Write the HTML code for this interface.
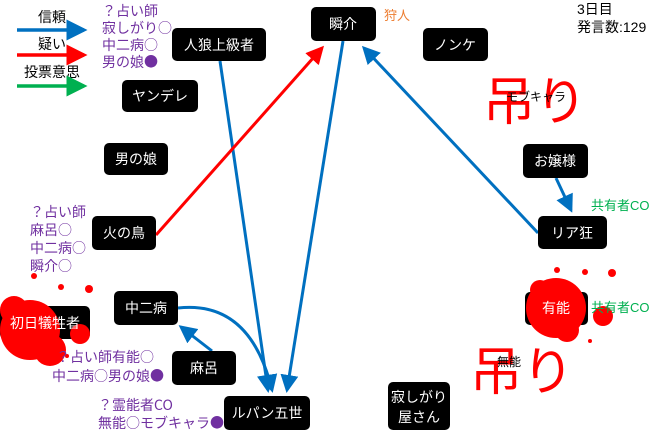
<!DOCTYPE html>
<html><head><meta charset="utf-8"><style>
body{margin:0;background:#fff;}
svg text{font-family:"Liberation Sans","Noto Sans CJK JP",sans-serif;}
svg .cjk text{font-family:"Noto Sans CJK JP",sans-serif;}
</style></head><body>
<svg width="660" height="434" viewBox="0 0 660 434" xmlns="http://www.w3.org/2000/svg">
<defs>
<marker id="ab" markerWidth="6" markerHeight="6" refX="5" refY="3" orient="auto" markerUnits="strokeWidth"><path d="M0,0 L6,3 L0,6 z" fill="#0070c0"/></marker>
<marker id="ar" markerWidth="6" markerHeight="6" refX="5" refY="3" orient="auto" markerUnits="strokeWidth"><path d="M0,0 L6,3 L0,6 z" fill="#ff0000"/></marker>
<marker id="ag" markerWidth="6" markerHeight="6" refX="5" refY="3" orient="auto" markerUnits="strokeWidth"><path d="M0,0 L6,3 L0,6 z" fill="#00b050"/></marker>
</defs>
<g font-size="14" fill="#000">
<text x="38" y="22">信頼</text>
<text x="38" y="49">疑い</text>
<text x="24" y="77">投票意思</text>
</g>
<line x1="17" y1="30" x2="84" y2="30" stroke="#0070c0" stroke-width="3.5" marker-end="url(#ab)"/>
<line x1="17" y1="55" x2="84" y2="55" stroke="#ff0000" stroke-width="3.5" marker-end="url(#ar)"/>
<line x1="17" y1="86" x2="84" y2="86" stroke="#00b050" stroke-width="3.5" marker-end="url(#ag)"/>

<line x1="220" y1="61" x2="268" y2="390" stroke="#0070c0" stroke-width="3" marker-end="url(#ab)"/>
<line x1="343" y1="41" x2="287" y2="390" stroke="#0070c0" stroke-width="3" marker-end="url(#ab)"/>
<line x1="156" y1="235" x2="322" y2="48" stroke="#ff0000" stroke-width="3" marker-end="url(#ar)"/>
<line x1="538" y1="233" x2="364" y2="48" stroke="#0070c0" stroke-width="3" marker-end="url(#ab)"/>
<line x1="556" y1="178" x2="571" y2="210" stroke="#0070c0" stroke-width="3" marker-end="url(#ab)"/>
<line x1="212" y1="351" x2="181" y2="327" stroke="#0070c0" stroke-width="3" marker-end="url(#ab)"/>
<path d="M178,308 Q250,300 272,390" fill="none" stroke="#0070c0" stroke-width="3" marker-end="url(#ab)"/>

<g fill="#000">
<rect x="172" y="28" width="94" height="33" rx="5"/>
<rect x="311" y="7" width="65" height="34" rx="5"/>
<rect x="423" y="28" width="65" height="33" rx="5"/>
<rect x="122" y="80" width="76" height="32" rx="5"/>
<rect x="104" y="143" width="64" height="32" rx="5"/>
<rect x="523" y="144" width="65" height="34" rx="5"/>
<rect x="92" y="216" width="64" height="34" rx="5"/>
<rect x="538" y="216" width="69" height="33" rx="5"/>
<rect x="0" y="306" width="90" height="33" rx="5"/>
<rect x="114" y="291" width="64" height="34" rx="5"/>
<rect x="525" y="292" width="63" height="33" rx="5"/>
<rect x="172" y="351" width="64" height="34" rx="5"/>
<rect x="224" y="396" width="86" height="34" rx="5"/>
<rect x="388" y="382" width="62" height="48" rx="5"/>
</g>
<g fill="#fff" font-size="14" text-anchor="middle">
<text x="219" y="50">人狼上級者</text>
<text x="343" y="29">瞬介</text>
<text x="455" y="50">ノンケ</text>
<text x="160" y="101">ヤンデレ</text>
<text x="136" y="164">男の娘</text>
<text x="555" y="166">お嬢様</text>
<text x="124" y="238">火の鳥</text>
<text x="572" y="238">リア狂</text>
<text x="146" y="313">中二病</text>
<text x="204" y="373">麻呂</text>
<text x="267" y="418">ルパン五世</text>
<text x="419" y="402">寂しがり</text>
<text x="419" y="422">屋さん</text>
</g>

<g fill="#ff0000">
<circle cx="30" cy="330" r="30"/>
<circle cx="14" cy="310" r="14"/>
<circle cx="50" cy="350" r="16"/>
<circle cx="80" cy="334" r="10"/>
<circle cx="34" cy="276" r="3"/>
<circle cx="61" cy="287" r="3"/>
<circle cx="89" cy="289" r="4"/>
<circle cx="67" cy="356" r="2"/>
<circle cx="556" cy="308" r="30"/>
<circle cx="540" cy="290" r="10"/>
<circle cx="567" cy="330" r="12"/>
<circle cx="603" cy="316" r="10"/>
<circle cx="557" cy="270" r="3"/>
<circle cx="585" cy="272" r="3"/>
<circle cx="612" cy="273" r="4"/>
<circle cx="590" cy="341" r="2"/>
</g>
<g fill="#fff" font-size="14" text-anchor="middle">
<text x="45" y="328">初日犠牲者</text>
<text x="556" y="313">有能</text>
</g>

<g font-size="14" fill="#7030a0" class="cjk">
<text x="102" y="16">？占い師</text>
<text x="102" y="33">寂しがり○</text>
<text x="102" y="50">中二病○</text>
<text x="102" y="67">男の娘●</text>
<text x="30" y="217">？占い師</text>
<text x="30" y="235">麻呂○</text>
<text x="30" y="253">中二病○</text>
<text x="30" y="271">瞬介○</text>
<text x="56" y="362">？占い師有能○</text>
<text x="52" y="381">中二病○男の娘●</text>
<text x="98" y="410">？霊能者CO</text>
<text x="98" y="428">無能○モブキャラ●</text>
</g>
<text x="384" y="20" font-size="13" fill="#ed7d31">狩人</text>
<g font-size="13" fill="#00b050">
<text x="591" y="210">共有者CO</text>
<text x="591" y="312">共有者CO</text>
</g>
<g font-size="14" fill="#000">
<text x="577" y="14">3日目</text>
<text x="577" y="32">発言数:129</text>
</g>
<text x="483" y="120" font-size="52" fill="#ff0000">吊り</text>
<text x="506" y="101" font-size="12" fill="#000">モブキャラ</text>
<text x="470" y="390" font-size="52" fill="#ff0000">吊り</text>
<text x="497" y="366" font-size="12" fill="#000">無能</text>
</svg>
</body></html>
